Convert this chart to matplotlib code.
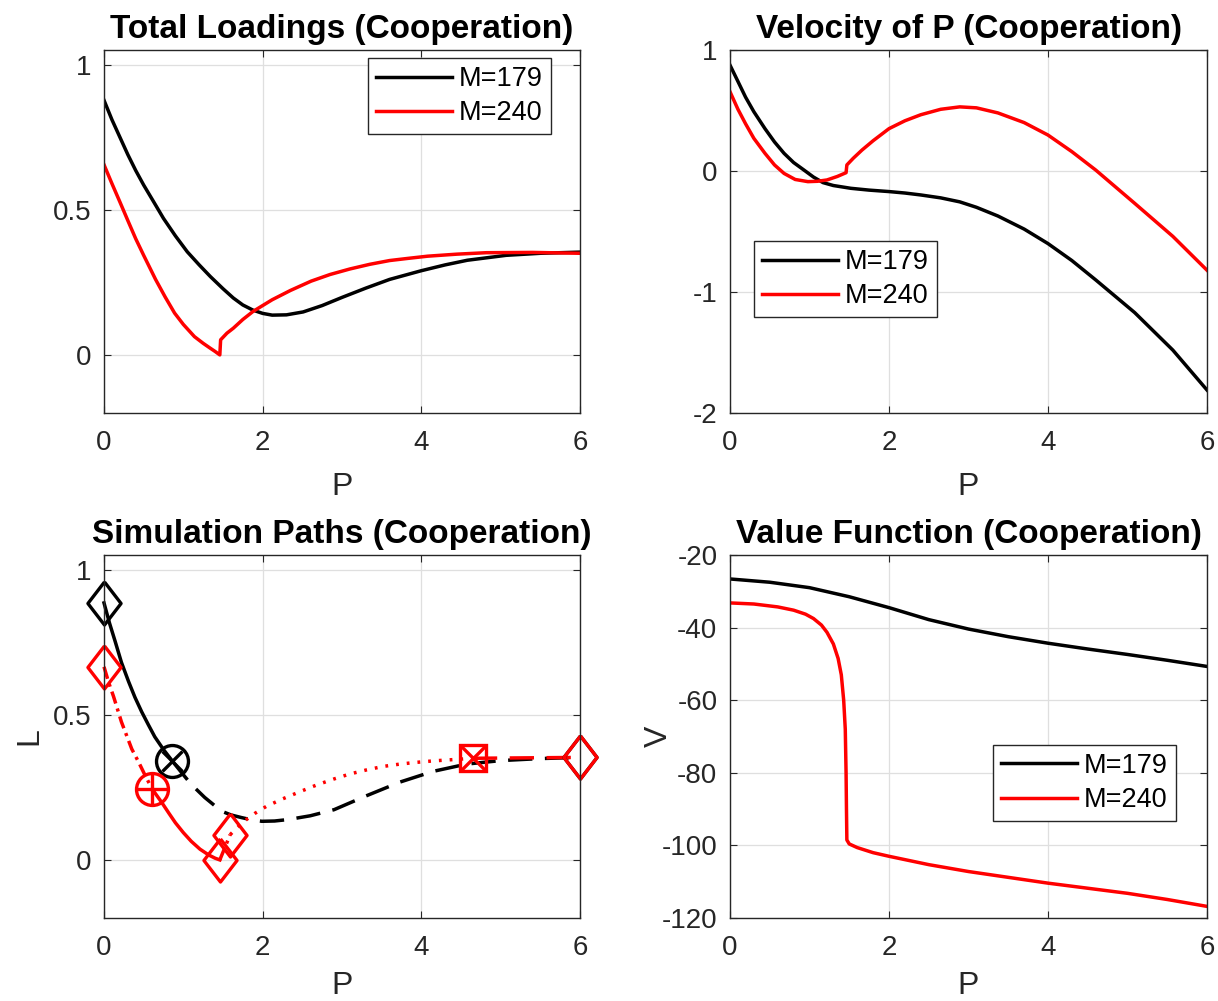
import numpy as np
import matplotlib
matplotlib.use('Agg')
import matplotlib.pyplot as plt

plt.rcParams['font.family'] = ['Liberation Sans', 'DejaVu Sans']
plt.rcParams['axes.unicode_minus'] = False

RED = '#FF0000'
GRAY = '#262626'
LW = 2.5

# total loadings L(P)
p_load_179 = [0, 0.1, 0.2, 0.3, 0.4, 0.5, 0.62, 0.75, 0.9, 1.05, 1.2, 1.34, 1.5, 1.63, 1.75, 1.88, 2.0,
              2.12, 2.3, 2.51, 2.75, 3.0, 3.3, 3.6, 4.0, 4.3, 4.58, 5.07, 5.5, 6.0]
l_load_179 = [0.877, 0.81, 0.75, 0.69, 0.635, 0.585, 0.53, 0.47, 0.41, 0.355, 0.31, 0.27, 0.228, 0.196,
              0.172, 0.154, 0.143, 0.137, 0.138, 0.148, 0.17, 0.198, 0.23, 0.26, 0.29, 0.31, 0.326,
              0.343, 0.35, 0.354]
p_load_240 = [0, 0.1, 0.2, 0.3, 0.4, 0.5, 0.65, 0.77, 0.89, 1.0, 1.14, 1.25, 1.34, 1.4, 1.46,
              1.47, 1.55, 1.63, 1.75, 1.88, 2.0, 2.12, 2.35, 2.61, 2.85, 3.1, 3.35, 3.6, 3.85, 4.08,
              4.45, 4.82, 5.4, 6.0]
l_load_240 = [0.655, 0.59, 0.527, 0.463, 0.40, 0.343, 0.26, 0.20, 0.144, 0.105, 0.063, 0.04, 0.023, 0.012,
              0.0, 0.052, 0.075, 0.092, 0.122, 0.15, 0.17, 0.19, 0.222, 0.254, 0.277, 0.296, 0.312,
              0.325, 0.333, 0.34, 0.347, 0.352, 0.353, 0.35]

# velocity of P
p_vel_179 = [0, 0.1, 0.196, 0.3, 0.44, 0.56, 0.68, 0.8, 0.93, 1.05, 1.17, 1.3, 1.52, 1.75, 2.0, 2.2, 2.4,
             2.65, 2.89, 3.1, 3.37, 3.7, 4.0, 4.3, 4.6, 5.09, 5.57, 6.0]
v_vel_179 = [0.875, 0.74, 0.61, 0.49, 0.35, 0.24, 0.146, 0.07, 0.008, -0.05, -0.096, -0.12, -0.143,
             -0.158, -0.17, -0.182, -0.198, -0.222, -0.255, -0.3, -0.372, -0.48, -0.6, -0.74, -0.9,
             -1.17, -1.48, -1.81]
p_vel_240 = [0, 0.1, 0.196, 0.3, 0.44, 0.56, 0.68, 0.82, 0.98, 1.1, 1.22, 1.35, 1.46, 1.47, 1.55, 1.66,
             1.8, 2.0, 2.2, 2.4, 2.65, 2.89, 3.1, 3.37, 3.7, 4.0, 4.3, 4.6, 5.09, 5.57, 6.0]
v_vel_240 = [0.655, 0.51, 0.39, 0.27, 0.146, 0.05, -0.02, -0.07, -0.088, -0.085, -0.074, -0.045, -0.014,
             0.05, 0.105, 0.173, 0.25, 0.35, 0.415, 0.465, 0.51, 0.53, 0.522, 0.48, 0.4, 0.297, 0.16,
             0.008, -0.267, -0.54, -0.82]

# value function
p_val_179 = [0, 0.5, 1.0, 1.5, 2.0, 2.5, 3.0, 3.5, 4.0, 4.5, 5.0, 5.5, 6.0]
v_val_179 = [-26.6, -27.5, -29.0, -31.5, -34.5, -37.8, -40.4, -42.5, -44.3, -45.9, -47.4, -49.0, -50.7]
p_val_240 = [0, 0.3, 0.6, 0.8, 0.95, 1.05, 1.15, 1.22, 1.3, 1.36, 1.4, 1.43, 1.45, 1.46, 1.465, 1.47,
             1.5, 1.6, 1.8, 2.0, 2.5, 3.0, 3.5, 4.0, 4.5, 5.0, 5.5, 6.0]
v_val_240 = [-33.2, -33.5, -34.3, -35.2, -36.3, -37.5, -39.3, -41.3, -44.5, -48.5, -53.0, -60.0, -68.0,
             -80.0, -90.0, -98.5, -99.6, -100.6, -102.0, -103.0, -105.3, -107.2, -108.8, -110.4,
             -111.8, -113.2, -114.9, -116.8]

# simulated paths, M=179
p_sim179_a = [0, 0.07, 0.14, 0.22, 0.31, 0.39, 0.475, 0.56, 0.64, 0.75, 0.86]
l_sim179_a = [0.885, 0.815, 0.753, 0.68, 0.614, 0.56, 0.51, 0.465, 0.424, 0.38, 0.341]
p_sim179_b = [0.86, 0.98, 1.1, 1.27, 1.48, 1.6, 1.73, 1.86, 1.99, 2.15, 2.32, 2.6, 2.9, 3.3, 3.73, 4.15,
              4.57, 5.0, 5.5, 6.0]
l_sim179_b = [0.341, 0.30, 0.26, 0.215, 0.168, 0.155, 0.146, 0.138, 0.133, 0.134, 0.139, 0.152, 0.173,
              0.22, 0.268, 0.305, 0.33, 0.342, 0.349, 0.353]

# simulated paths, M=240
p_sim240_a = [0, 0.06, 0.12, 0.22, 0.35, 0.44, 0.52, 0.61]
l_sim240_a = [0.665, 0.61, 0.563, 0.475, 0.382, 0.335, 0.29, 0.243]
p_sim240_b = [0.61, 0.67, 0.73, 0.82, 0.9, 1.0, 1.1, 1.21, 1.32, 1.4, 1.46]
l_sim240_b = [0.243, 0.22, 0.197, 0.16, 0.128, 0.094, 0.064, 0.037, 0.017, 0.006, 0.0]
p_sim240_c = [1.46, 1.59]
l_sim240_c = [0.0, 0.087]
p_sim240_d = [1.59, 1.75, 1.9, 2.05, 2.25, 2.47, 2.68, 2.89, 3.1, 3.31, 3.52, 3.73, 3.94, 4.15, 4.49, 4.65]
l_sim240_d = [0.087, 0.13, 0.16, 0.185, 0.21, 0.235, 0.258, 0.278, 0.296, 0.31, 0.322, 0.33, 0.336,
              0.341, 0.347, 0.35]
p_sim240_e = [4.65, 6.0]
l_sim240_e = [0.35, 0.353]

labels = ['M=179', 'M=240']

fig = plt.figure(figsize=(12.18, 10.01), dpi=100)

W, H = 1218.0, 1001.0
def box(x0, y0, x1, y1):
    return [x0 / W, 1 - y1 / H, (x1 - x0) / W, (y1 - y0) / H]

ax1 = fig.add_axes(box(104, 50, 580, 413))
ax2 = fig.add_axes(box(730, 50, 1207, 413))
ax3 = fig.add_axes(box(104, 555, 580, 918))
ax4 = fig.add_axes(box(730, 555, 1207, 918))

def style(ax, title, ylim, yticks, yticklabels=None, xpad=11):
    ax.set_xlim(0, 6)
    ax.set_ylim(*ylim)
    ax.set_xticks([0, 2, 4, 6])
    ax.set_yticks(yticks)
    if yticklabels is not None:
        ax.set_yticklabels(yticklabels)
    ax.grid(True, color='#DFDFDF', linewidth=0.9)
    ax.set_axisbelow(True)
    ax.tick_params(direction='in', top=True, right=True, length=5, width=0.8,
                   colors=GRAY, labelsize=20)
    ax.tick_params(axis='x', pad=12.5)
    ax.tick_params(axis='y', pad=9)
    for s in ax.spines.values():
        s.set_color(GRAY)
        s.set_linewidth(1.0)
    ax.set_title(title, fontsize=24, fontweight='bold', pad=8.5)
    ax.set_xlabel('P', fontsize=23, color=GRAY, labelpad=xpad)

def legend(ax, x, y):
    lg = ax.legend(labels, loc='upper left', bbox_to_anchor=(x, y), fontsize=19.5,
                   frameon=True, fancybox=False, framealpha=1, edgecolor=GRAY,
                   handlelength=2.8, handletextpad=0.26, borderpad=0.3, labelspacing=0.3,
                   borderaxespad=0)
    lg.get_frame().set_linewidth(1.0)

# total loadings
ax1.plot(p_load_179, l_load_179, color='k', lw=LW)
ax1.plot(p_load_240, l_load_240, color=RED, lw=LW)
style(ax1, 'Total Loadings (Cooperation)', (-0.2, 1.05), [0, 0.5, 1], ['0', '0.5', '1'])
legend(ax1, 0.555, 0.978)

# velocity
ax2.plot(p_vel_179, v_vel_179, color='k', lw=LW)
ax2.plot(p_vel_240, v_vel_240, color=RED, lw=LW)
style(ax2, 'Velocity of P (Cooperation)', (-2, 1), [-2, -1, 0, 1])
legend(ax2, 0.05, 0.474)

# simulation paths
dashed = (0, (7, 3.6))
dashdot = (0, (3.6, 1.5, 0.9, 1.5))
dotted = (0, (0.8, 2.3))
diamond = [(0, 1), (0.77, 0), (0, -1), (-0.77, 0), (0, 1)]
mk = dict(markersize=31, markeredgewidth=2.4, markerfacecolor='none', linestyle='none')
ring = dict(markersize=23, markeredgewidth=2.4, markerfacecolor='none', linestyle='none')

ax3.plot(p_sim179_a, l_sim179_a, color='k', lw=LW, ls='-')
ax3.plot(p_sim179_b, l_sim179_b, color='k', lw=LW, ls=dashed)
ax3.plot(p_sim240_a, l_sim240_a, color=RED, lw=LW, ls=dashdot)
ax3.plot(p_sim240_b, l_sim240_b, color=RED, lw=LW, ls='-')
ax3.plot(p_sim240_c, l_sim240_c, color=RED, lw=LW, ls=dashdot)
ax3.plot(p_sim240_d, l_sim240_d, color=RED, lw=LW, ls=dotted)
ax3.plot(p_sim240_e, l_sim240_e, color=RED, lw=LW, ls=dashed)

# start, switch and end points
ax3.plot(p_sim179_a[0], l_sim179_a[0], marker=diamond, color='k', **mk)
ax3.plot(p_sim179_b[-1], l_sim179_b[-1], marker=diamond, color='k', **mk)
ax3.plot(p_sim179_a[-1], l_sim179_a[-1], marker='o', color='k', **ring)
ax3.plot(p_sim179_a[-1], l_sim179_a[-1], marker='x', color='k', markersize=15,
         markeredgewidth=2.4, linestyle='none')
ax3.plot(p_sim240_a[0], l_sim240_a[0], marker=diamond, color=RED, **mk)
ax3.plot(p_sim240_a[-1], l_sim240_a[-1], marker='o', color=RED, **ring)
ax3.plot(p_sim240_a[-1], l_sim240_a[-1], marker='+', color=RED, markersize=23,
         markeredgewidth=2.4, linestyle='none')
ax3.plot(p_sim240_b[-1], l_sim240_b[-1], marker=diamond, color=RED, **mk)
ax3.plot(p_sim240_c[-1], l_sim240_c[-1], marker=diamond, color=RED, **mk)
ax3.plot(p_sim240_d[-1], l_sim240_d[-1], marker='s', color=RED, markersize=19,
         markeredgewidth=2.4, markerfacecolor='none', linestyle='none')
ax3.plot(p_sim240_d[-1], l_sim240_d[-1], marker='x', color=RED, markersize=19,
         markeredgewidth=2.4, linestyle='none')
ax3.plot(p_sim240_e[-1], l_sim240_e[-1], marker=diamond, color=RED, **mk)
style(ax3, 'Simulation Paths (Cooperation)', (-0.2, 1.05), [0, 0.5, 1], ['0', '0.5', '1'], xpad=7)
ax3.set_ylabel('L', fontsize=23, color=GRAY, labelpad=6)
for ln in ax3.lines:
    ln.set_clip_on(False)

# value function
ax4.plot(p_val_179, v_val_179, color='k', lw=LW)
ax4.plot(p_val_240, v_val_240, color=RED, lw=LW)
style(ax4, 'Value Function (Cooperation)', (-120, -20), [-120, -100, -80, -60, -40, -20], xpad=7)
ax4.set_ylabel('V', fontsize=23, color=GRAY, labelpad=-9)
legend(ax4, 0.551, 0.477)

fig.savefig('out.png', dpi=100)
